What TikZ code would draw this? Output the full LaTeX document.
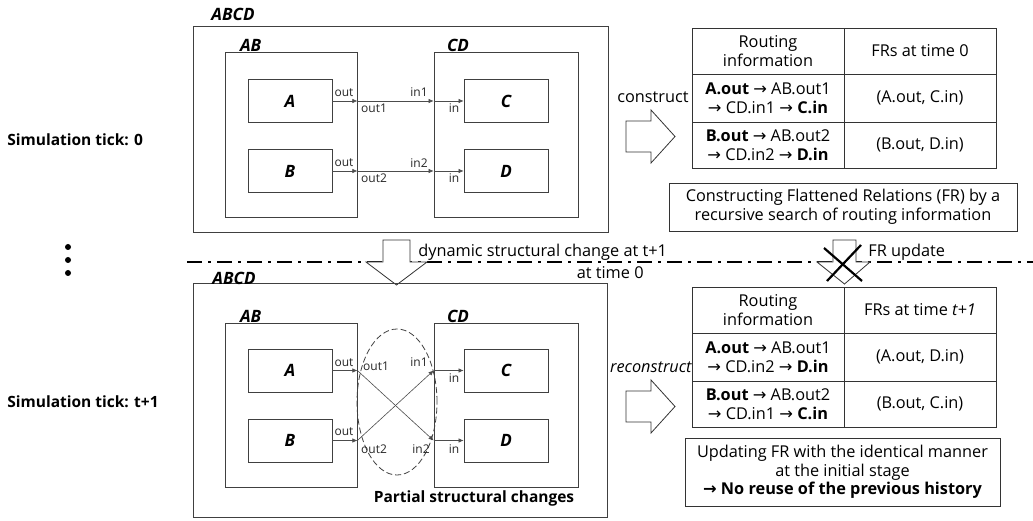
\documentclass[tikz,border=0pt]{standalone}
\usepackage{fontspec}
\setmainfont{Open Sans}
\newfontfamily\symfont{DejaVu Sans}
\usetikzlibrary{arrows.meta,shapes}
\newcommand{\ra}{{\symfont →}}

\begin{document}
\begin{tikzpicture}[x=1pt,y=-1pt,line width=0.8pt]
    \tikzstyle{block} = [draw=black!75,inner sep=0pt]
    \tikzstyle{unit} = [block,minimum width=84pt,minimum height=43pt,font=\fontsize{17}{20}\selectfont\bfseries\itshape]
    \tikzstyle{tag} = [inner sep=0pt,font=\fontsize{17}{20}\selectfont\bfseries\itshape]
    \tikzstyle{port} = [inner sep=0pt,font=\fontsize{12}{14}\selectfont,text=black!85]
    \tikzstyle{txt} = [inner sep=0pt,font=\fontsize{16.3}{19}\selectfont]
    \tikzstyle{cell} = [draw=black!80,minimum width=152pt,inner sep=0pt,align=center,font=\fontsize{16.3}{19}\selectfont]
    \tikzstyle{note} = [draw=black!80,inner sep=0pt,align=center,font=\fontsize{16.3}{18.5}\selectfont]
    \tikzstyle{link} = [draw=black!70,line width=0.6pt,-{Latex[length=5pt,width=4.5pt]}]
    \tikzstyle{hollow} = [draw=black!80,fill=white,line width=0.8pt]
      \useasboundingbox (0,0) rectangle (1033,521);
      % ticks on the left
      \node[txt,anchor=west,font=\fontsize{15.5}{18}\selectfont\bfseries] (tick0) at (7,140) {Simulation tick: 0};
      \node[txt,anchor=west,font=\fontsize{15.5}{18}\selectfont\bfseries] (tick1) at (7,402) {Simulation tick: t+1};
      \foreach \y in {247,260,273} \fill (68,\y) circle (3);
      % upper model
      \node[block,minimum width=415pt,minimum height=206pt] (ABCD) at (400.5,129) {};
      \node[tag] (ABCDtag) at (233,14) {ABCD};
      \node[block,minimum width=132pt,minimum height=165pt] (AB) at (291,134.5) {};
      \node[block,minimum width=144pt,minimum height=165pt] (CD) at (506,134.5) {};
      \node[tag,anchor=south west] (ABtag) at ([xshift=15pt]AB.north west) {AB};
      \node[tag,anchor=south west] (CDtag) at ([xshift=13pt]CD.north west) {CD};
      \node[unit] (A) at (290,101) {A};
      \node[unit] (B) at (290,171) {B};
      \node[unit] (C) at (506,101) {C};
      \node[unit] (D) at (506,171) {D};
      \foreach \s/\d in {A/C,B/D} {
        \draw[link] (\s.east) -- (\s.east -| AB.east);
        \draw[link] (\s.east -| AB.east) -- (\d.west -| CD.west);
        \draw[link] (\d.west -| CD.west) -- (\d.west);
      }
      \node[port] (Aout) at (344,93) {out};
      \node[port] (ABout1) at (374,108) {out1};
      \node[port] (CDin1) at (419,92) {in1};
      \node[port] (Cin) at (454,108) {in};
      \node[port] (Bout) at (344,163) {out};
      \node[port] (ABout2) at (374,178) {out2};
      \node[port] (CDin2) at (419,163) {in2};
      \node[port] (Din) at (454,178) {in};
      % flattened relations at time 0
      \foreach \dy in {0,270} \draw[hollow] (626,121+\dy) -- (651,121+\dy) -- (651,110+\dy) -- (675,136.5+\dy) -- (651,163+\dy) -- (651,152+\dy) -- (626,152+\dy) -- cycle;
      \node[txt,anchor=east] (construct) at (689,97) {construct};
      \node[cell,minimum height=46pt] (hdr) at (768,51) {Routing\\information};
      \node[cell,minimum height=46pt] (hdrFR) at (920,51) {FRs at time 0};
      \node[cell,minimum height=48pt] (route1) at (768,98) {\textbf{A.out} \ra{} AB.out1\\\ra{} CD.in1 \ra{} \textbf{C.in}};
      \node[cell,minimum height=48pt] (fr1) at (920,98) {(A.out, C.in)};
      \node[cell,minimum height=46pt] (route2) at (768,145) {\textbf{B.out} \ra{} AB.out2\\\ra{} CD.in2 \ra{} \textbf{D.in}};
      \node[cell,minimum height=46pt] (fr2) at (920,145) {(B.out, D.in)};
      \node[note,minimum width=348pt,minimum height=48pt] (construction) at (843,207) {Constructing Flattened Relations (FR) by a\\recursive search of routing information};
      % time boundary
      \draw[line width=2pt,dash pattern=on 15pt off 6pt on 3pt off 6pt] (187,262) coordinate (cut) -- (1033,262) coordinate (cutend);
      \draw[hollow] (383,240) -- (410,240) -- (410,262) -- (427,262) -- (396.5,285) -- (366,262) -- (383,262) -- cycle;
      \node[txt,anchor=west] (change) at (418,252) {dynamic structural change at t+1};
      \node[txt,anchor=east] (time0) at (644,273) {at time 0};
      \draw[hollow] (833,240) -- (856,240) -- (856,262) -- (870,262) -- (844.5,284) -- (817,262) -- (833,262) -- cycle;
      \draw[line width=2.2pt] (824,248) -- (862,281) (861,245) -- (827,281);
      \node[txt,anchor=west] (update) at (868,252) {FR update};
      % lower model
      \node[block,minimum width=414pt,minimum height=234pt] (ABCDb) at (400,400) {};
      \node[tag] (ABCDbtag) at (234,278) {ABCD};
      \node[block,minimum width=132pt,minimum height=164pt] (ABb) at (291,405) {};
      \node[block,minimum width=144pt,minimum height=164pt] (CDb) at (506,405) {};
      \node[tag,anchor=south west] (ABbtag) at ([xshift=15pt]ABb.north west) {AB};
      \node[tag,anchor=south west] (CDbtag) at ([xshift=13pt]CDb.north west) {CD};
      \node[unit] (A2) at (290,370.5) {A};
      \node[unit] (B2) at (290,440.5) {B};
      \node[unit] (C2) at (506,370.5) {C};
      \node[unit] (D2) at (506,440.5) {D};
      \foreach \s/\d in {A2/D2,B2/C2} {
        \draw[link] (\s.east) -- (\s.east -| ABb.east);
        \draw[link] (\s.east -| ABb.east) -- (\d.west -| CDb.west);
        \draw[link] (\d.west -| CDb.west) -- (\d.west);
      }
      \node[draw=black!75,dashed,dash pattern=on 6pt off 3pt,ellipse,minimum width=80pt,minimum height=146pt] (changes) at (397,402) {};
      \node[port] (A2out) at (344,363) {out};
      \node[port] (ABbout1) at (376,366) {out1};
      \node[port] (CDbin1) at (419,362) {in1};
      \node[port] (C2in) at (454,378) {in};
      \node[port] (B2out) at (344,432) {out};
      \node[port] (ABbout2) at (374,449) {out2};
      \node[port] (CDbin2) at (421,449) {in2};
      \node[port] (D2in) at (454,449) {in};
      \node[txt,font=\fontsize{15.5}{18}\selectfont\bfseries] (partial) at (474,498) {Partial structural changes};
      % flattened relations at time t+1
      \node[txt,anchor=east,font=\fontsize{16.3}{19}\selectfont\itshape] (reconstruct) at (692,367) {reconstruct};
      \node[cell,minimum height=46pt] (hdrb) at (768,310) {Routing\\information};
      \node[cell,minimum height=46pt] (hdrbFR) at (920,310) {FRs at time \textit{t+1}};
      \node[cell,minimum height=48pt] (route1b) at (768,357) {\textbf{A.out} \ra{} AB.out1\\\ra{} CD.in2 \ra{} \textbf{D.in}};
      \node[cell,minimum height=48pt] (fr1b) at (920,357) {(A.out, D.in)};
      \node[cell,minimum height=46pt] (route2b) at (768,404) {\textbf{B.out} \ra{} AB.out2\\\ra{} CD.in1 \ra{} \textbf{C.in}};
      \node[cell,minimum height=46pt] (fr2b) at (920,404) {(B.out, C.in)};
      \node[note,minimum width=315pt,minimum height=68pt] (updating) at (842.5,472) {Updating FR with the identical manner\\at the initial stage\\\textbf{\ra{} No reuse of the previous history}};
  \end{tikzpicture}
\end{document}
